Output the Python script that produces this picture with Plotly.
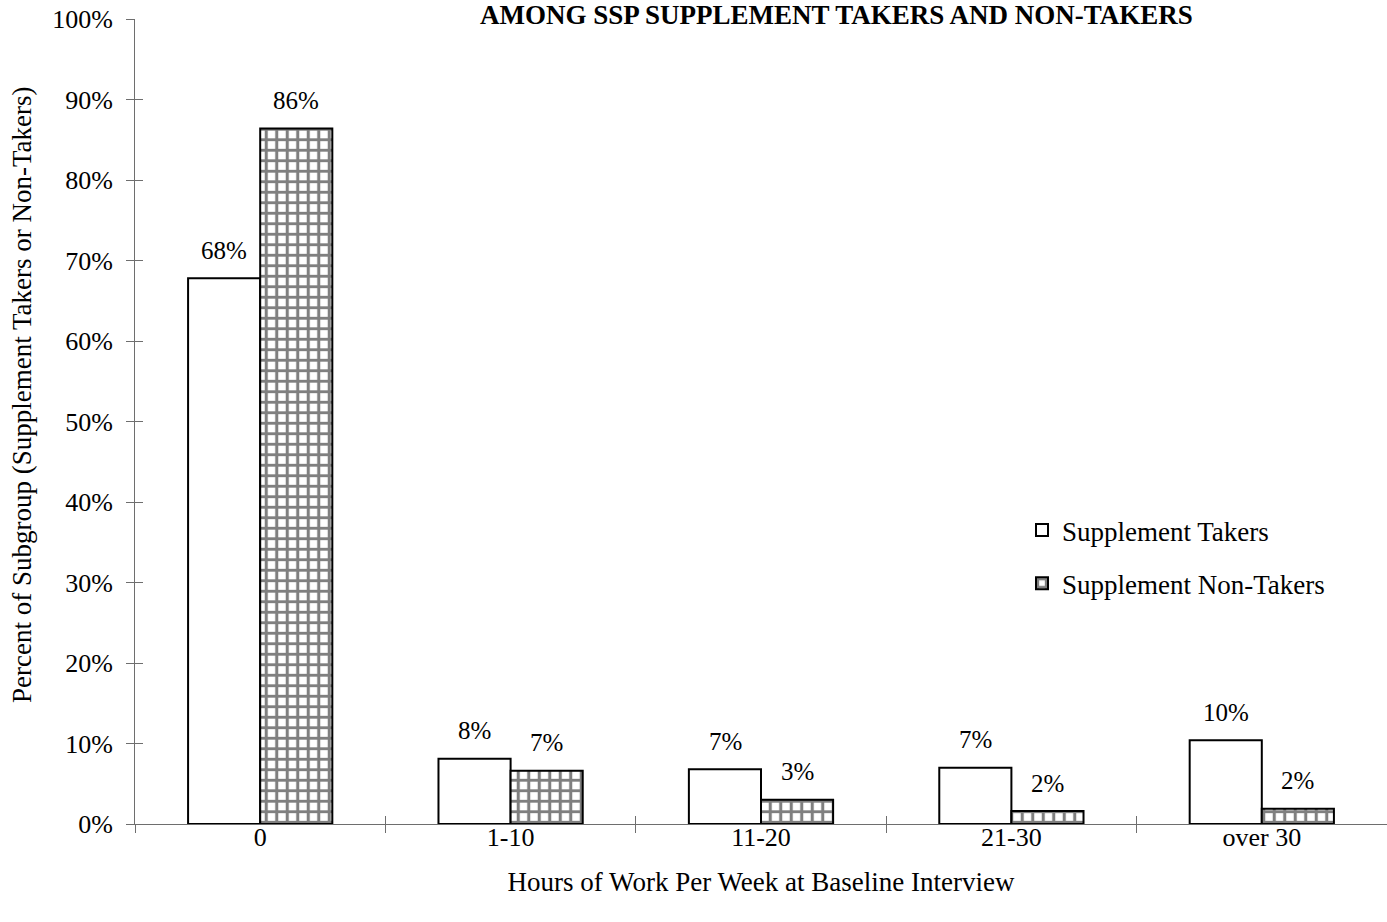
import plotly.graph_objects as go

# Hours-of-work categories and shares (percent of each subgroup)
categories = ["0", "1-10", "11-20", "21-30", "over 30"]
takers = [67.8, 8.1, 6.8, 7.0, 10.4]
non_takers = [86.4, 6.6, 3.0, 1.6, 1.9]
series_names = ["Supplement Takers", "Supplement Non-Takers"]
y_ticks = [0, 10, 20, 30, 40, 50, 60, 70, 80, 90, 100]
y_tick_text = [f"{v}%" for v in y_ticks]

FONT = "Liberation Serif, Times New Roman, serif"
AXIS_COLOR = "#6e6e6e"

W, H = 1387, 922
L, R, T, B = 135, 0, 19, 98
pw, ph = W - L - R, H - T - B


def px_x(px):
    """Horizontal pixel position -> paper coordinate."""
    return (px - L) / pw


def px_y(px):
    """Vertical pixel position (from top) -> paper coordinate."""
    return (H - B - px) / ph


fig = go.Figure()

fig.add_trace(go.Bar(
    x=categories, y=takers, name=series_names[0],
    marker=dict(color="white", line=dict(color="black", width=2)),
    legendgroup="a", hoverinfo="skip",
))
fig.add_trace(go.Bar(
    x=categories, y=non_takers, name=series_names[1],
    marker=dict(
        color="white",
        line=dict(color="black", width=2),
        pattern=dict(shape="+", fgcolor="black", bgcolor="white",
                     size=10.5, solidity=0.5, fillmode="overlay"),
    ),
    legendgroup="b", hoverinfo="skip",
))

# Invisible companion trace so the overlay axes (inner tick halves) get drawn
fig.add_trace(go.Scatter(
    x=categories, y=takers, xaxis="x2", yaxis="y2", mode="markers",
    marker=dict(opacity=0), showlegend=False, hoverinfo="skip",
))

# Value labels above each bar
label_font = dict(family=FONT, size=25, color="black")
annotations = []
for cat, t, n in zip(categories, takers, non_takers):
    annotations.append(dict(x=cat, y=t, xref="x", yref="y", text=f"{round(t)}%",
                            showarrow=False, xshift=-36, yshift=28, font=label_font))
    annotations.append(dict(x=cat, y=n, xref="x", yref="y", text=f"{round(n)}%",
                            showarrow=False, xshift=36, yshift=28, font=label_font))

# Chart heading
annotations.append(dict(
    x=px_x(836), y=px_y(15), xref="paper", yref="paper",
    xanchor="center", yanchor="middle",
    text="<b>AMONG SSP SUPPLEMENT TAKERS AND NON-TAKERS</b>",
    showarrow=False, font=dict(family=FONT, size=27, color="black"),
))

# y-axis title, placed slightly above the plot centre
annotations.append(dict(
    x=px_x(22), y=px_y(395), xref="paper", yref="paper",
    xanchor="center", yanchor="middle",
    text="Percent of Subgroup (Supplement Takers or Non-Takers)", textangle=-90,
    showarrow=False, font=dict(family=FONT, size=27, color="black"),
))

fig.update_layout(
    width=W, height=H,
    margin=dict(l=L, r=R, t=T, b=B),
    paper_bgcolor="white", plot_bgcolor="white",
    barmode="group", bargap=0.424, bargroupgap=0,
    font=dict(family=FONT, color="black"),
    showlegend=True,
    legend=dict(
        x=px_x(1022), y=px_y(506), xanchor="left", yanchor="top",
        font=dict(family=FONT, size=27, color="black"),
        bgcolor="rgba(0,0,0,0)", tracegroupgap=15, itemwidth=30,
    ),
    annotations=annotations,
    xaxis=dict(
        categoryorder="array", categoryarray=categories,
        showline=True, linecolor=AXIS_COLOR, linewidth=1,
        ticks="outside", ticklen=8, tickcolor=AXIS_COLOR, tickson="boundaries",
        tickfont=dict(family=FONT, size=26, color="black"),
        ticklabelstandoff=-10,
        showgrid=False, zeroline=False,
        title=dict(text="Hours of Work Per Week at Baseline Interview",
                   font=dict(family=FONT, size=27, color="black"), standoff=20),
    ),
    yaxis=dict(
        range=[0, 100], tickvals=y_ticks, ticktext=y_tick_text,
        showline=True, linecolor=AXIS_COLOR, linewidth=1,
        ticks="outside", ticklen=8, tickcolor=AXIS_COLOR,
        tickfont=dict(family=FONT, size=26, color="black"),
        ticklabelstandoff=8,
        showgrid=False, zeroline=False,
    ),
    xaxis2=dict(
        overlaying="x", categoryorder="array", categoryarray=categories,
        ticks="inside", ticklen=8, tickcolor=AXIS_COLOR, tickson="boundaries",
        showticklabels=False, showline=False, showgrid=False, zeroline=False,
        matches="x",
    ),
    yaxis2=dict(
        overlaying="y", side="left", range=[0, 100], tickvals=y_ticks,
        ticks="inside", ticklen=8, tickcolor=AXIS_COLOR,
        showticklabels=False, showline=False, showgrid=False, zeroline=False,
    ),
)

fig.write_html("out.html")
